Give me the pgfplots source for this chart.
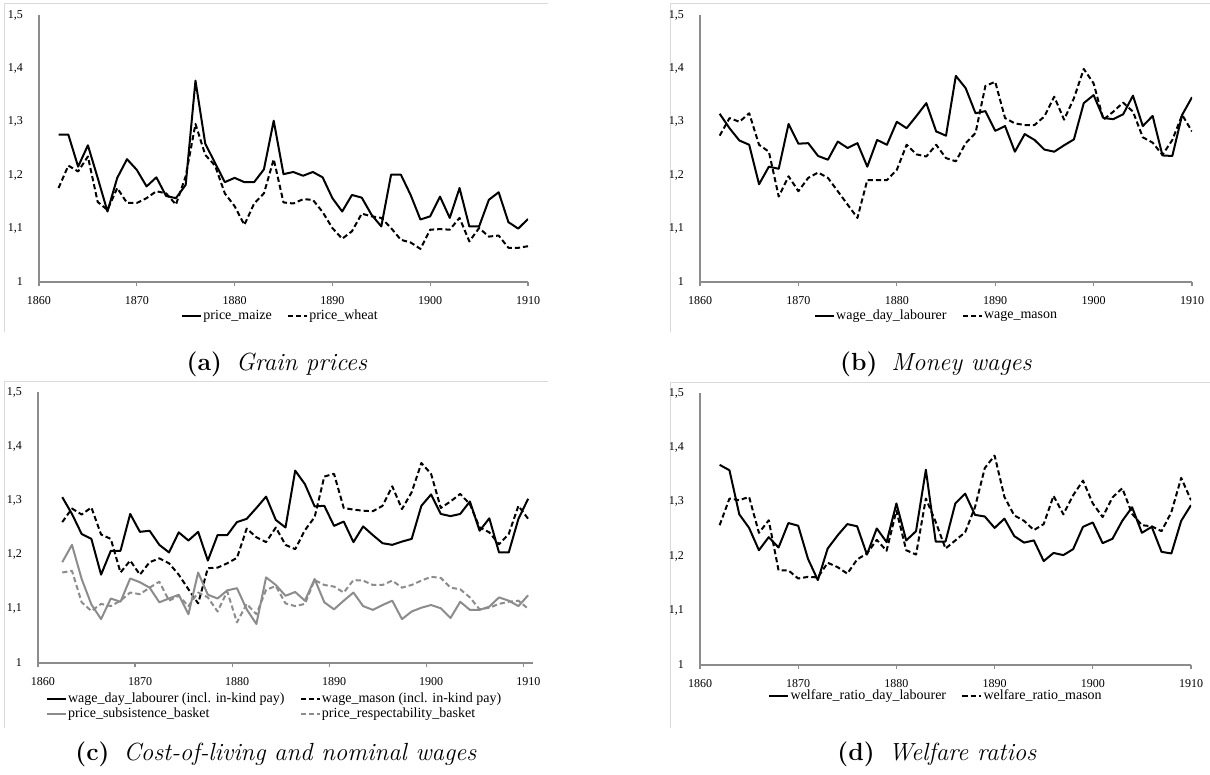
\documentclass[border=0pt]{standalone}
\usepackage{fontspec}
\usepackage{pgfplots}
\pgfplotsset{compat=1.18}
\usepackage{pgfplotstable}
\newfontfamily\tnr{Liberation Serif}

\pgfplotstableread{
year maize wheat
1862 1.276 1.176
1863 1.276 1.218
1864 1.216 1.207
1865 1.256 1.235
1866 1.195 1.150
1867 1.132 1.135
1868 1.195 1.176
1869 1.230 1.148
1870 1.210 1.148
1871 1.179 1.157
1872 1.196 1.170
1873 1.161 1.166
1874 1.157 1.145
1875 1.182 1.198
1876 1.377 1.296
1877 1.259 1.238
1878 1.223 1.218
1879 1.187 1.166
1880 1.195 1.142
1881 1.187 1.107
1882 1.187 1.147
1883 1.211 1.166
1884 1.302 1.230
1885 1.202 1.149
1886 1.206 1.147
1887 1.199 1.155
1888 1.206 1.154
1889 1.196 1.131
1890 1.157 1.101
1891 1.132 1.081
1892 1.163 1.095
1893 1.158 1.128
1894 1.126 1.123
1895 1.104 1.120
1896 1.201 1.101
1897 1.201 1.079
1898 1.163 1.074
1899 1.117 1.062
1900 1.123 1.098
1901 1.160 1.099
1902 1.120 1.098
1903 1.176 1.120
1904 1.104 1.076
1905 1.104 1.101
1906 1.154 1.085
1907 1.168 1.087
1908 1.112 1.064
1909 1.100 1.064
1910 1.118 1.067
}\grain

\pgfplotstableread{
year lab mason
1862 1.315 1.274
1863 1.288 1.307
1864 1.265 1.300
1865 1.257 1.316
1866 1.183 1.257
1867 1.216 1.244
1868 1.212 1.160
1869 1.296 1.198
1870 1.259 1.170
1871 1.260 1.195
1872 1.236 1.205
1873 1.229 1.195
1874 1.263 1.170
1875 1.251 1.145
1876 1.260 1.120
1877 1.216 1.191
1878 1.266 1.191
1879 1.257 1.191
1880 1.300 1.210
1881 1.288 1.257
1882 1.311 1.239
1883 1.335 1.235
1884 1.282 1.257
1885 1.274 1.232
1886 1.386 1.226
1887 1.363 1.260
1888 1.316 1.279
1889 1.320 1.367
1890 1.283 1.375
1891 1.292 1.307
1892 1.244 1.297
1893 1.277 1.294
1894 1.266 1.294
1895 1.248 1.310
1896 1.244 1.347
1897 1.256 1.304
1898 1.267 1.344
1899 1.335 1.399
1900 1.350 1.372
1901 1.307 1.304
1902 1.305 1.319
1903 1.314 1.336
1904 1.349 1.319
1905 1.292 1.271
1906 1.311 1.261
1907 1.237 1.238
1908 1.236 1.266
1909 1.313 1.313
1910 1.346 1.282
}\wages

\pgfplotstableread{
year lab mason subs resp
1862 1.306 1.260 1.186 1.167
1863 1.275 1.285 1.218 1.170
1864 1.238 1.274 1.155 1.112
1865 1.229 1.287 1.108 1.096
1866 1.163 1.237 1.081 1.109
1867 1.207 1.229 1.119 1.105
1868 1.207 1.167 1.113 1.115
1869 1.275 1.189 1.156 1.130
1870 1.242 1.163 1.149 1.127
1871 1.244 1.186 1.139 1.139
1872 1.218 1.193 1.112 1.150
1873 1.204 1.184 1.119 1.115
1874 1.241 1.163 1.126 1.124
1875 1.226 1.136 1.090 1.105
1876 1.242 1.110 1.167 1.130
1877 1.189 1.175 1.126 1.121
1878 1.236 1.176 1.119 1.095
1879 1.236 1.184 1.134 1.132
1880 1.260 1.194 1.138 1.075
1881 1.266 1.248 1.099 1.109
1882 1.286 1.232 1.072 1.090
1883 1.307 1.223 1.158 1.135
1884 1.264 1.250 1.144 1.142
1885 1.250 1.218 1.124 1.110
1886 1.355 1.210 1.131 1.105
1887 1.330 1.245 1.115 1.109
1888 1.289 1.269 1.155 1.153
1889 1.290 1.344 1.112 1.144
1890 1.253 1.349 1.099 1.141
1891 1.261 1.286 1.115 1.130
1892 1.223 1.283 1.130 1.153
1893 1.252 1.281 1.105 1.152
1894 1.236 1.280 1.098 1.144
1895 1.221 1.290 1.107 1.144
1896 1.218 1.326 1.115 1.152
1897 1.224 1.284 1.081 1.139
1898 1.229 1.315 1.095 1.144
1899 1.290 1.369 1.102 1.152
1900 1.311 1.349 1.107 1.159
1901 1.275 1.286 1.101 1.157
1902 1.271 1.298 1.083 1.139
1903 1.275 1.312 1.113 1.136
1904 1.298 1.293 1.098 1.121
1905 1.244 1.250 1.098 1.099
1906 1.267 1.241 1.104 1.102
1907 1.204 1.219 1.121 1.109
1908 1.204 1.238 1.115 1.113
1909 1.266 1.290 1.105 1.115
1910 1.303 1.266 1.125 1.100
}\costs

\pgfplotstableread{
year lab mason
1862 1.368 1.257
1863 1.358 1.306
1864 1.277 1.303
1865 1.252 1.309
1866 1.211 1.243
1867 1.235 1.266
1868 1.216 1.174
1869 1.261 1.174
1870 1.256 1.159
1871 1.195 1.162
1872 1.156 1.161
1873 1.214 1.188
1874 1.238 1.180
1875 1.259 1.168
1876 1.255 1.194
1877 1.203 1.205
1878 1.251 1.230
1879 1.226 1.210
1880 1.297 1.284
1881 1.229 1.211
1882 1.246 1.203
1883 1.359 1.306
1884 1.227 1.263
1885 1.227 1.214
1886 1.297 1.229
1887 1.315 1.244
1888 1.276 1.290
1889 1.273 1.362
1890 1.252 1.385
1891 1.269 1.309
1892 1.237 1.275
1893 1.225 1.265
1894 1.229 1.248
1895 1.191 1.259
1896 1.206 1.311
1897 1.202 1.277
1898 1.213 1.312
1899 1.254 1.339
1900 1.262 1.297
1901 1.224 1.272
1902 1.232 1.308
1903 1.265 1.325
1904 1.290 1.278
1905 1.243 1.257
1906 1.254 1.255
1907 1.208 1.246
1908 1.205 1.281
1909 1.265 1.344
1910 1.294 1.303
}\welfare

\tikzset{dsh/.style={dash pattern=on 2.6pt off 1.5pt}}

\pgfplotsset{
  panel/.style={
    scale only axis,
    axis x line=bottom, axis y line=left,
    axis line style={black!45, line width=0.6pt, -},
    xmin=1860, xmax=1910, ymin=1, ymax=1.5,
    xtick={1860,1870,1880,1890,1900,1910},
    xticklabels={1860,1870,1880,1890,1900,1910},
    ytick={1,1.1,1.2,1.3,1.4,1.5},
    yticklabels={1,{1,1},{1,2},{1,3},{1,4},{1,5}},
    ticklabel style={font=\tnr\fontsize{6}{7}\selectfont},
    yticklabel style={xshift=-2.5pt},
    xticklabel style={yshift=-1.5pt},
    ytick style={draw=none},
    xtick style={black!45, line width=0.6pt},
    tick align=outside, major tick length=2pt,
    legend style={draw=none, fill=none, inner sep=0pt,
      font=\tnr\fontsize{7}{8.5}\selectfont,
      nodes={inner sep=0.6pt},
      /tikz/every even column/.append style={column sep=7pt}},
    legend cell align=left,
    legend image code/.code={\draw[#1] (0pt,0pt) -- (9.5pt,0pt);},
    every axis plot/.append style={line width=1pt, line join=round},
  },
}

\begin{document}
\begin{tikzpicture}
\useasboundingbox (0,0) rectangle (605pt,-387.5pt);

% chart area frames (only top and left edges survive the crop)
\draw[black!15, line width=0.5pt] (2pt,-166pt) -- (2pt,-2pt) -- (274pt,-2pt);
\draw[black!15, line width=0.5pt] (335pt,-166pt) -- (335pt,-2pt) -- (607pt,-2pt);
\draw[black!15, line width=0.5pt] (2pt,-364pt) -- (2pt,-190.5pt) -- (274pt,-190.5pt);
\draw[black!15, line width=0.5pt] (335pt,-364pt) -- (335pt,-191pt) -- (607pt,-191pt);

% (a) grain prices
\begin{axis}[panel, at={(19.5pt,-141pt)}, anchor=south west,
  width=244.5pt, height=133.5pt,
  legend columns=2,
  legend style={at={(0.493,-0.127)}, anchor=center}]
  \addplot[black] table[x=year, y=maize] {\grain};
  \addplot[black, dsh] table[x=year, y=wheat] {\grain};
  \legend{price\_maize, price\_wheat}
\end{axis}

% (b) money wages
\begin{axis}[panel, at={(350pt,-141pt)}, anchor=south west,
  width=246pt, height=133.5pt,
  legend columns=2,
  legend style={at={(0.48,-0.127)}, anchor=center}]
  \addplot[black] table[x=year, y=lab] {\wages};
  \addplot[black, dsh] table[x=year, y=mason] {\wages};
  \legend{wage\_day\_labourer, wage\_mason}
\end{axis}

% (c) cost of living and nominal wages
\begin{axis}[panel, at={(19pt,-331.5pt)}, anchor=south west,
  width=247.5pt, height=135.5pt, xmax=1911,
  xticklabel style={xshift=2.5pt},
  legend columns=2,
  legend style={at={(0.477,-0.161)}, anchor=center}]
  \addplot[black] table[x expr=\thisrow{year}+0.5, y=lab] {\costs};
  \addplot[black, dsh] table[x expr=\thisrow{year}+0.5, y=mason] {\costs};
  \addplot[black!45] table[x expr=\thisrow{year}+0.5, y=subs] {\costs};
  \addplot[black!45, dsh] table[x expr=\thisrow{year}+0.5, y=resp] {\costs};
  \legend{wage\_day\_labourer (incl. in-kind pay), wage\_mason (incl. in-kind pay),
    price\_subsistence\_basket, price\_respectability\_basket}
\end{axis}

% (d) welfare ratios
\begin{axis}[panel, at={(350pt,-332.5pt)}, anchor=south west,
  width=245.5pt, height=136pt,
  legend columns=2,
  legend style={at={(0.48,-0.115)}, anchor=center}]
  \addplot[black] table[x=year, y=lab] {\welfare};
  \addplot[black, dsh] table[x=year, y=mason] {\welfare};
  \legend{welfare\_ratio\_day\_labourer, welfare\_ratio\_mason}
\end{axis}

% captions
\node at (138.5pt,-182pt) {\fontsize{12.4}{14}\selectfont\textbf{(a)}\hspace{7pt}\textit{Grain prices}};
\node at (468pt,-182pt) {\fontsize{12.4}{14}\selectfont\textbf{(b)}\hspace{7pt}\textit{Money wages}};
\node at (138pt,-377pt) {\fontsize{12.4}{14}\selectfont\textbf{(c)}\hspace{7pt}\textit{Cost-of-living and nominal wages}};
\node at (468.5pt,-377pt) {\fontsize{12.4}{14}\selectfont\textbf{(d)}\hspace{7pt}\textit{Welfare ratios}};
\end{tikzpicture}
\end{document}
